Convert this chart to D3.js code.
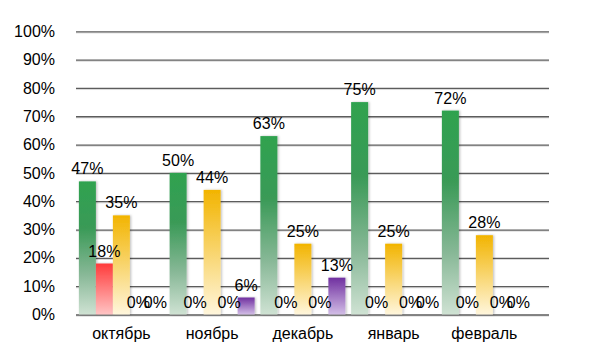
<html>
<head>
  <meta charset="utf-8">
  <title></title>
</head>
<body>
<div id='graph-container'></div>
</body>
<script src="https://d3js.org/d3.v7.min.js"></script>
<script type="text/javascript">

var months = ['октябрь', 'ноябрь', 'декабрь', 'январь', 'февраль']
var seriesNames = ['green', 'red', 'yellow', 'blue', 'purple']
var greenVals = [47, 50, 63, 75, 72]
var redVals = [18, 0, 0, 0, 0]
var yellowVals = [35, 44, 25, 25, 28]
var blueVals = [0, 0, 0, 0, 0]
var purpleVals = [0, 6, 13, 0, 0]
var yTicks = [0, 10, 20, 30, 40, 50, 60, 70, 80, 90, 100]

var gradStops = {
  green: [[0, '#2fa24f'], [0.35, '#3a9a57'], [0.7, '#88b897'], [1, '#cfe2d3']],
  red: [[0, '#ff3b3b'], [1, '#ffc4c4']],
  yellow: [[0, '#f2b400'], [1, '#fff6dc']],
  blue: [[0, '#4472c4'], [1, '#c9d6ee']],
  purple: [[0, '#7030a0'], [1, '#d2bde6']]
}

var allVals = [greenVals, redVals, yellowVals, blueVals, purpleVals]

var width = 603, height = 363
var plotLeft = 76, plotRight = 549
var step = 90.75
var fontSize = 16
var yScale = d3.scaleLinear().domain([0, 100]).range([314.5, 31.3])
var xScale = d3.scaleBand().domain(months).range([plotLeft, plotLeft + step*months.length])
var groupGap = 5.75
var x1 = d3.scaleBand().domain(seriesNames).range([groupGap/2, step - groupGap/2])

var svg = d3.select('#graph-container').append('svg')
  .attr('width', width)
  .attr('height', height)
  .style('font-family', 'Arial, "Liberation Sans", sans-serif')

var defs = svg.append('defs')
seriesNames.forEach((s)=>{
  var g = defs.append('linearGradient').attr('id', 'grad-'+s)
    .attr('x1', 0).attr('y1', 0).attr('x2', 0).attr('y2', 1)
  gradStops[s].forEach((st)=>{
    g.append('stop').attr('offset', st[0]).attr('stop-color', st[1])
  })
})
var shadow = defs.append('filter').attr('id', 'shadow')
  .attr('x', '-20%').attr('y', '-5%').attr('width', '150%').attr('height', '110%')
shadow.append('feDropShadow').attr('dx', 1.2).attr('dy', 0)
  .attr('stdDeviation', 1).attr('flood-color', '#000').attr('flood-opacity', 0.25)

// gridline shadows
svg.append('g').selectAll('line')
  .data(yTicks)
  .enter()
  .append('line')
  .attr('x1', plotLeft).attr('x2', plotRight)
  .attr('y1', (d)=>yScale(d)+1.6).attr('y2', (d)=>yScale(d)+1.6)
  .attr('stroke', '#d9d9d9').attr('stroke-width', 1)

var yAxis = svg.append('g')
  .attr('transform', `translate(${plotLeft},0)`)
  .call(d3.axisLeft(yScale)
    .tickValues(yTicks)
    .tickSize(-(plotRight-plotLeft))
    .tickPadding(21)
    .tickFormat((d)=>d+'%'))
yAxis.select('.domain').remove()
yAxis.selectAll('line').attr('stroke', '#5c5c5c').attr('stroke-width', 1.3)
yAxis.selectAll('text').attr('font-size', fontSize).attr('fill', '#000')
  .style('font-family', 'Arial, "Liberation Sans", sans-serif')

var xAxis = svg.append('g')
  .attr('transform', `translate(0,${yScale(0)})`)
  .call(d3.axisBottom(xScale).tickSize(0).tickPadding(13))
xAxis.select('.domain').remove()
xAxis.selectAll('text').attr('font-size', fontSize).attr('fill', '#000')
  .style('font-family', 'Arial, "Liberation Sans", sans-serif')

var rows = []
months.forEach((m, i)=>{
  seriesNames.forEach((s, j)=>{
    rows.push({month: m, series: s, value: allVals[j][i]})
  })
})

svg.append('g').selectAll('rect')
  .data(rows.filter((d)=>d.value > 0))
  .enter()
  .append('rect')
  .attr('x', (d)=>xScale(d.month) + x1(d.series))
  .attr('y', (d)=>yScale(d.value))
  .attr('width', x1.bandwidth())
  .attr('height', (d)=>yScale(0) - yScale(d.value))
  .attr('fill', (d)=>'url(#grad-'+d.series+')')
  .attr('filter', 'url(#shadow)')

svg.append('g').selectAll('text')
  .data(rows)
  .enter()
  .append('text')
  .attr('x', (d)=>xScale(d.month) + x1(d.series) + x1.bandwidth()/2)
  .attr('y', (d)=>yScale(d.value) - 7)
  .attr('text-anchor', 'middle')
  .attr('font-size', fontSize)
  .attr('fill', '#000')
  .text((d)=>d.value+'%')

</script>
<style type="text/css">
  body{margin:0;background:#fff;}
</style>
</html>
